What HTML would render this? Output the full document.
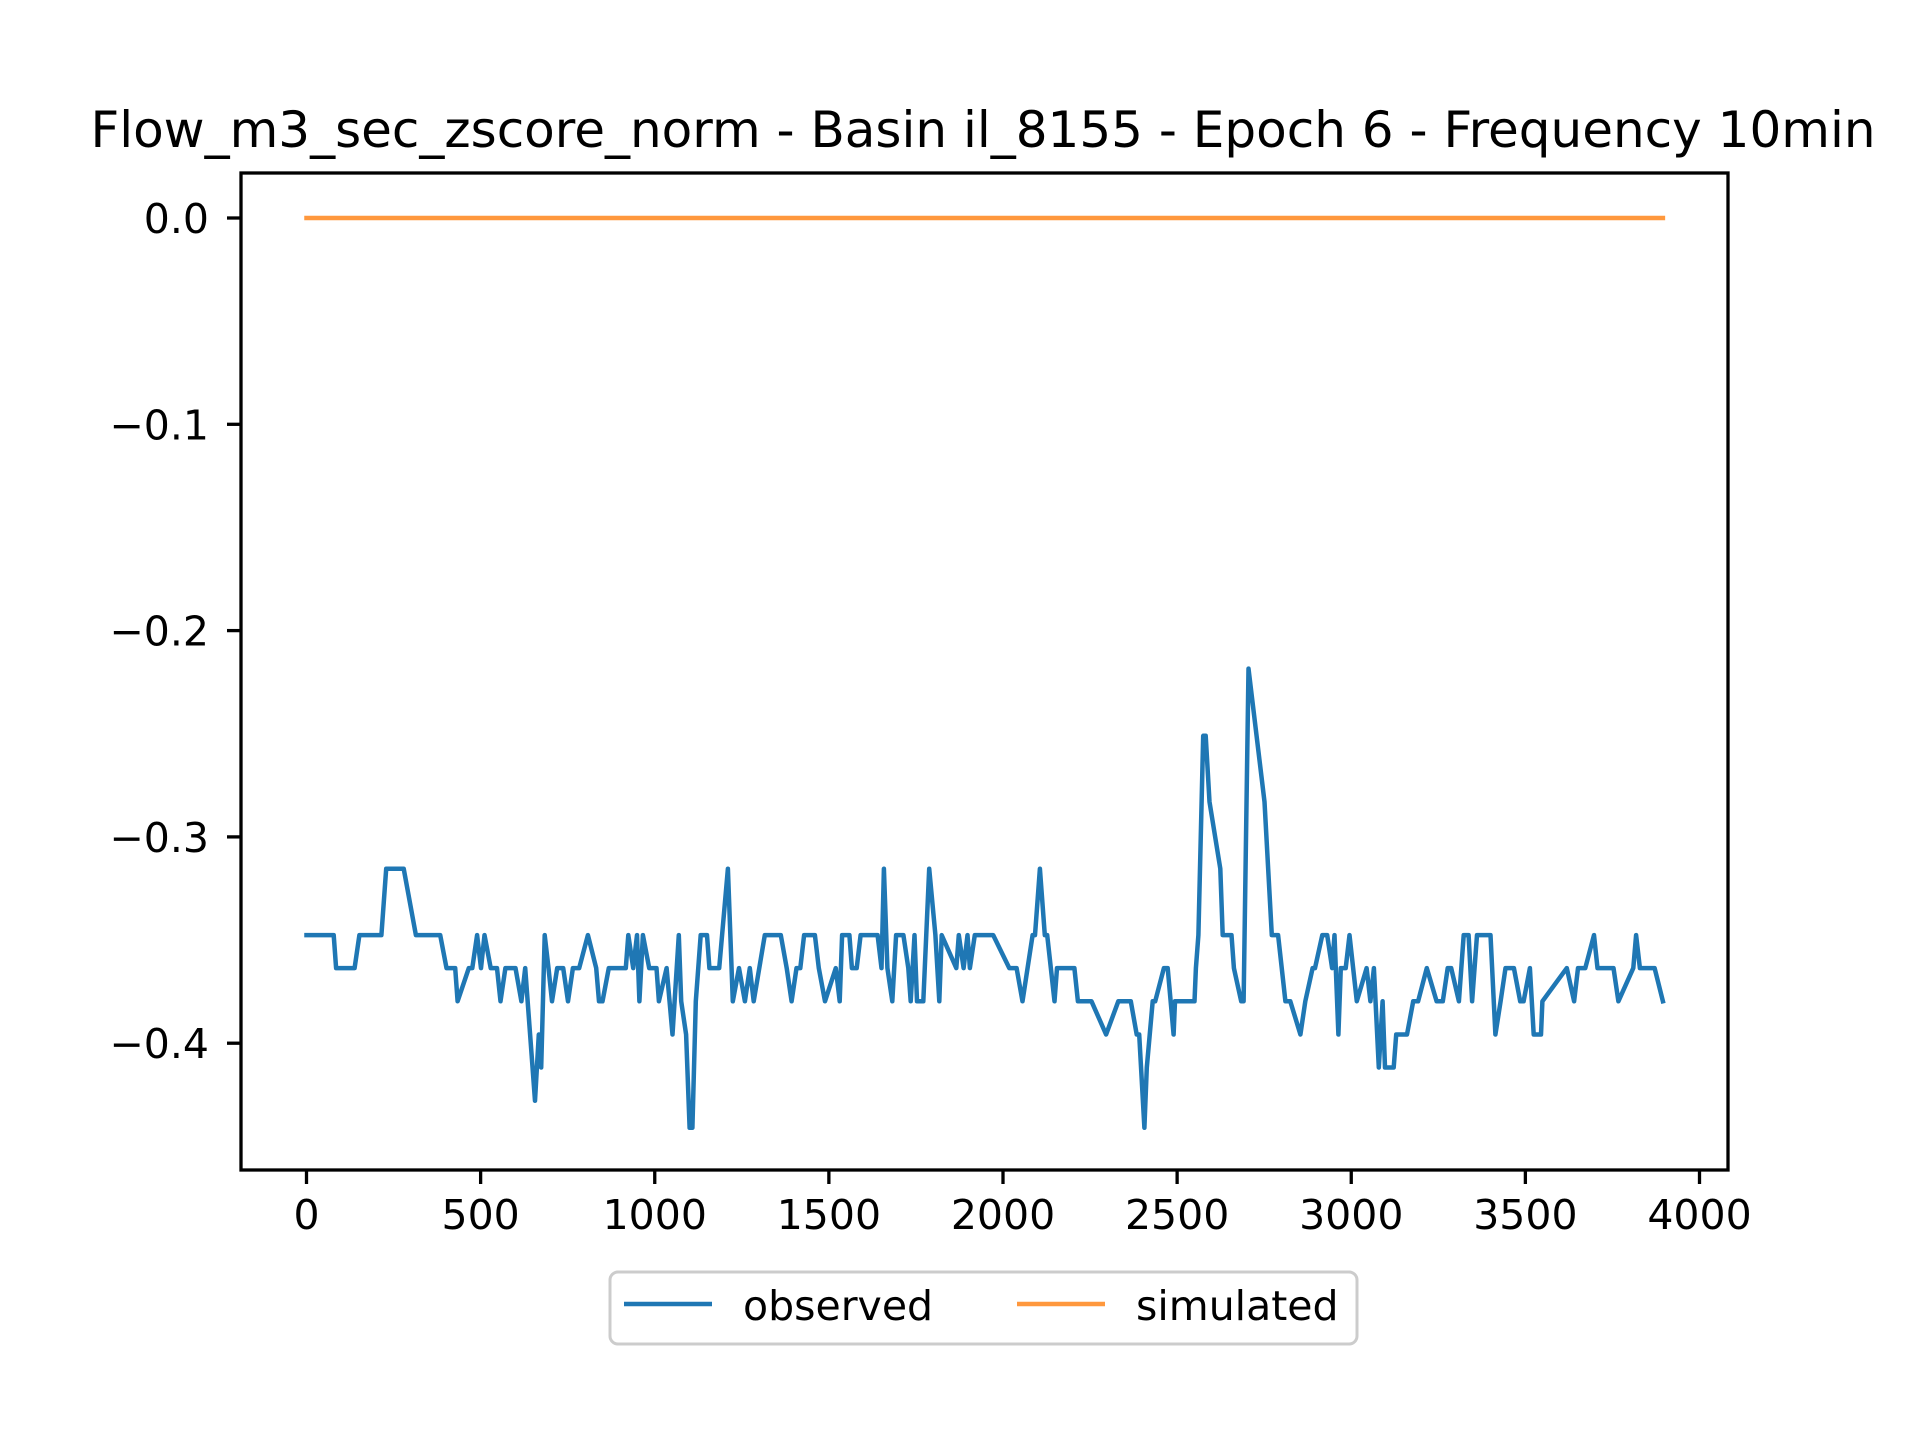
<!DOCTYPE html>
<html><head><meta charset="utf-8"><style>
html,body{margin:0;padding:0;background:#fff;}
svg{display:block;font-family:"DejaVu Sans","Liberation Sans",sans-serif;}
</style></head><body>
<svg id="chart" width="1920" height="1440" viewBox="0 0 1920 1440">
<rect width="1920" height="1440" fill="#fff"/>
<text x="983" y="147" font-size="50" text-anchor="middle" fill="#000">Flow_m3_sec_zscore_norm - Basin il_8155 - Epoch 6 - Frequency 10min</text>
<g id="series"></g>
<g id="axes"></g>
<g>
<rect x="610" y="1272" width="747" height="72" rx="8" fill="#fff" stroke="#cccccc" stroke-width="3"/>
<line x1="624" y1="1304" x2="712" y2="1304" stroke="#1f77b4" stroke-width="4.5"/>
<text x="743" y="1320" font-size="41">observed</text>
<line x1="1017" y1="1304" x2="1105" y2="1304" stroke="#ff983d" stroke-width="4.5"/>
<text x="1136" y="1320" font-size="41">simulated</text>
</g>
</svg>
<script>
const obsX = [0,78,85,138,152,215,229,279,314,384,402,427,434,466,476,490,501,511,529,547,557,571,600,617,628,642,656,667,674,684,695,705,720,737,751,765,783,808,832,840,850,868,917,924,938,949,956,966,984,1005,1012,1034,1051,1069,1076,1090,1100,1108,1118,1132,1150,1157,1185,1210,1224,1242,1259,1273,1284,1316,1362,1379,1393,1407,1418,1429,1460,1471,1489,1520,1531,1538,1559,1566,1580,1591,1640,1651,1658,1668,1682,1693,1714,1728,1735,1746,1753,1771,1788,1806,1817,1824,1866,1873,1887,1898,1905,1919,1972,2018,2039,2056,2085,2092,2106,2120,2127,2148,2155,2205,2215,2254,2296,2331,2367,2384,2391,2406,2413,2430,2437,2462,2473,2490,2494,2550,2554,2561,2575,2582,2593,2624,2631,2656,2663,2684,2691,2705,2751,2772,2790,2811,2825,2854,2868,2889,2896,2917,2931,2945,2952,2963,2970,2984,2995,3016,3044,3055,3065,3079,3090,3097,3122,3129,3160,3178,3192,3217,3245,3263,3277,3287,3309,3323,3337,3347,3361,3400,3414,3429,3443,3467,3485,3495,3513,3524,3545,3549,3619,3640,3651,3672,3697,3707,3753,3767,3810,3818,3829,3871,3895];
const obsY = [-0.3476,-0.3476,-0.3636,-0.3636,-0.3476,-0.3476,-0.3154,-0.3154,-0.3476,-0.3476,-0.3636,-0.3636,-0.3797,-0.3636,-0.3636,-0.3476,-0.3636,-0.3476,-0.3636,-0.3636,-0.3797,-0.3636,-0.3636,-0.3797,-0.3636,-0.3958,-0.4279,-0.3958,-0.4118,-0.3476,-0.3636,-0.3797,-0.3636,-0.3636,-0.3797,-0.3636,-0.3636,-0.3476,-0.3636,-0.3797,-0.3797,-0.3636,-0.3636,-0.3476,-0.3636,-0.3476,-0.3797,-0.3476,-0.3636,-0.3636,-0.3797,-0.3636,-0.3958,-0.3476,-0.3797,-0.3958,-0.441,-0.441,-0.3797,-0.3476,-0.3476,-0.3636,-0.3636,-0.3154,-0.3797,-0.3636,-0.3797,-0.3636,-0.3797,-0.3476,-0.3476,-0.3636,-0.3797,-0.3636,-0.3636,-0.3476,-0.3476,-0.3636,-0.3797,-0.3636,-0.3797,-0.3476,-0.3476,-0.3636,-0.3636,-0.3476,-0.3476,-0.3636,-0.3154,-0.3636,-0.3797,-0.3476,-0.3476,-0.3636,-0.3797,-0.3476,-0.3797,-0.3797,-0.3154,-0.3476,-0.3797,-0.3476,-0.3636,-0.3476,-0.3636,-0.3476,-0.3636,-0.3476,-0.3476,-0.3636,-0.3636,-0.3797,-0.3476,-0.3476,-0.3154,-0.3476,-0.3476,-0.3797,-0.3636,-0.3636,-0.3797,-0.3797,-0.3958,-0.3797,-0.3797,-0.3958,-0.3958,-0.441,-0.4118,-0.3797,-0.3797,-0.3636,-0.3636,-0.3958,-0.3797,-0.3797,-0.3636,-0.3476,-0.251,-0.251,-0.283,-0.3154,-0.3476,-0.3476,-0.3636,-0.3797,-0.3797,-0.2184,-0.283,-0.3476,-0.3476,-0.3797,-0.3797,-0.3958,-0.3797,-0.3636,-0.3636,-0.3476,-0.3476,-0.3636,-0.3476,-0.3958,-0.3636,-0.3636,-0.3476,-0.3797,-0.3636,-0.3797,-0.3636,-0.4118,-0.3797,-0.4118,-0.4118,-0.3958,-0.3958,-0.3797,-0.3797,-0.3636,-0.3797,-0.3797,-0.3636,-0.3636,-0.3797,-0.3476,-0.3476,-0.3797,-0.3476,-0.3476,-0.3958,-0.3797,-0.3636,-0.3636,-0.3797,-0.3797,-0.3636,-0.3958,-0.3958,-0.3797,-0.3636,-0.3797,-0.3636,-0.3636,-0.3476,-0.3636,-0.3636,-0.3797,-0.3636,-0.3476,-0.3636,-0.3636,-0.3797];
const simX = [0,3895];
const simY = [0,0];
const xTicks = [0,500,1000,1500,2000,2500,3000,3500,4000];
const xTickLabels = ["0","500","1000","1500","2000","2500","3000","3500","4000"];
const yTicks = [0,-0.1,-0.2,-0.3,-0.4];
const yTickLabels = ["0.0","\u22120.1","\u22120.2","\u22120.3","\u22120.4"];

const AX = {left:241, right:1728, top:173, bottom:1170};
function xs(v){ return 306.5 + v*0.34825; }
function ys(v){ return 218 - v*2063; }
const NS = "http://www.w3.org/2000/svg";
const series = document.getElementById('series');
const axes = document.getElementById('axes');

function poly(xa, ya, color, name){
  const p = document.createElementNS(NS,'polyline');
  p.setAttribute('points', xa.map((x,i)=>xs(x).toFixed(1)+','+ys(ya[i]).toFixed(1)).join(' '));
  p.setAttribute('fill','none');
  p.setAttribute('stroke',color);
  p.setAttribute('stroke-width','4.5');
  p.setAttribute('stroke-linejoin','round');
  p.setAttribute('stroke-linecap','square');
  
  
  series.appendChild(p);
}
poly(obsX, obsY, '#1f77b4', 'observed-line');
poly(simX, simY, '#ff983d', 'simulated-line');

const frame = document.createElementNS(NS,'rect');
frame.setAttribute('x',AX.left); frame.setAttribute('y',AX.top);
frame.setAttribute('width',AX.right-AX.left); frame.setAttribute('height',AX.bottom-AX.top);
frame.setAttribute('fill','none'); frame.setAttribute('stroke','#000'); frame.setAttribute('stroke-width','3.3');


axes.appendChild(frame);

xTicks.forEach((t,i)=>{
  const x = xs(t);
  const l = document.createElementNS(NS,'line');
  l.setAttribute('x1',x); l.setAttribute('x2',x); l.setAttribute('y1',AX.bottom); l.setAttribute('y2',AX.bottom+14);
  l.setAttribute('stroke','#000'); l.setAttribute('stroke-width','3.3');
  
  
  axes.appendChild(l);
  const tx = document.createElementNS(NS,'text');
  tx.setAttribute('x',x); tx.setAttribute('y',1229); tx.setAttribute('font-size','41'); tx.setAttribute('text-anchor','middle');
  tx.textContent = xTickLabels[i];
  
  
  axes.appendChild(tx);
});
yTicks.forEach((t,i)=>{
  const y = ys(t);
  const l = document.createElementNS(NS,'line');
  l.setAttribute('x1',AX.left-14); l.setAttribute('x2',AX.left); l.setAttribute('y1',y); l.setAttribute('y2',y);
  l.setAttribute('stroke','#000'); l.setAttribute('stroke-width','3.3');
  
  
  axes.appendChild(l);
  const tx = document.createElementNS(NS,'text');
  tx.setAttribute('x',209); tx.setAttribute('y',y+15); tx.setAttribute('font-size','41'); tx.setAttribute('text-anchor','end');
  tx.textContent = yTickLabels[i];
  
  
  axes.appendChild(tx);
});
</script>
</body></html>
